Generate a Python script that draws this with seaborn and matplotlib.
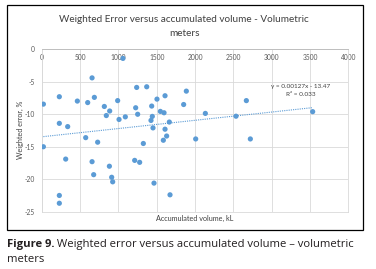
import numpy as np
import pandas as pd
import matplotlib
matplotlib.use("Agg")
import matplotlib.pyplot as plt
import seaborn as sns
from matplotlib.patches import Rectangle

sns.set_theme(style="white")
plt.rcParams['font.family'] = ['Lato', 'DejaVu Sans']

# ---- data ----
volume_kl = [22, 22, 230, 230, 230, 230, 313, 339, 465, 574, 600, 657, 657, 687, 678,
             730, 817, 843, 887, 883, 913, 926, 991, 1009, 1091, 1060,
             1213, 1278, 1239, 1226, 1252, 1370, 1326, 1435, 1426, 1443, 1452, 1465,
             1504, 1548, 1596, 1609, 1587, 1609, 1630, 1665, 1674,
             1887, 1852, 2135, 2009, 2670, 2535, 2722, 3535]
weighted_error = [-8.44, -15.0, -7.3, -11.4, -22.5, -23.7, -16.9, -11.9, -7.97, -13.6, -8.2,
                  -4.4, -17.3, -7.4, -19.3, -14.3, -8.8, -10.2, -9.5, -18.0, -19.7, -20.4,
                  -7.9, -10.8, -10.4, -1.4,
                  -17.1, -17.4, -5.87, -9.0, -10.0, -5.77, -14.5, -8.74, -10.95, -10.33,
                  -12.1, -20.6, -7.67, -9.56, -9.77, -7.15, -14.0, -12.3, -13.35, -11.2,
                  -22.4,
                  -6.44, -8.5, -9.87, -13.8, -7.9, -10.3, -13.8, -9.6]
trend_slope = 0.00127
trend_intercept = -13.47
r_squared = 0.033
x_ticks = [0, 500, 1000, 1500, 2000, 2500, 3000, 3500, 4000]
y_ticks = [0, -5, -10, -15, -20, -25]

title_text = "Weighted Error versus accumulated volume - Volumetric\nmeters"
x_label = "Accumulated volume, kL"
y_label = "Weighted error, %"
caption_bold = "Figure 9."
caption_rest = " Weighted error versus accumulated volume \u2013 volumetric"
caption_line2 = "meters"

df = pd.DataFrame({"volume": volume_kl, "error": weighted_error})

W, H = 376, 269
fig = plt.figure(figsize=(W / 100, H / 100), dpi=100)

def fx(px):
    return px / W

def fy(py):
    return 1 - py / H

# outer chart frame
fig.patches.append(Rectangle((fx(6.7), fy(229.7)), fx(363.3) - fx(6.7), fy(5) - fy(229.7),
                             transform=fig.transFigure, fill=False, edgecolor="black",
                             linewidth=0.9))

ax = fig.add_axes([fx(41.7), fy(211.7), fx(348.3) - fx(41.7), fy(49.3) - fy(211.7)])
grid_c = "#D9D9D9"
sns.scatterplot(data=df, x="volume", y="error", ax=ax, color="#5B9BD5", s=14,
                edgecolor="none", linewidth=0, zorder=3)

xs = np.array([min(volume_kl), max(volume_kl)])
ax.plot(xs, trend_slope * xs + trend_intercept, linestyle=(0, (1, 1)), color="#5B9BD5",
        linewidth=0.8, zorder=2)

ax.set_xlim(0, 4000)
ax.set_ylim(-25, 0)
ax.set_xticks(x_ticks)
ax.set_yticks(y_ticks)
ax.set_xticklabels([str(t) for t in x_ticks])
ax.set_yticklabels([str(t) for t in y_ticks])
ax.xaxis.tick_top()
ax.tick_params(axis="x", top=False, bottom=False, labeltop=True, labelbottom=False,
               pad=-8.5, labelsize=4.8, colors="#595959", length=0)
ax.tick_params(axis="y", left=False, labelsize=4.8, colors="#595959", pad=5, length=0)
ax.grid(True, color=grid_c, linewidth=0.6)
ax.set_axisbelow(True)
for side in ["left", "right", "bottom"]:
    ax.spines[side].set_color(grid_c)
    ax.spines[side].set_linewidth(0.6)
ax.spines["top"].set_color("#BFBFBF")
ax.spines["top"].set_linewidth(0.7)
ax.set_xlabel("")
ax.set_ylabel("")

fig.text(fx(195), fy(218), x_label, ha="center", va="center", fontsize=5.2, color="#404040")
fig.text(fx(20), fy(130), y_label, ha="center", va="center", fontsize=5.2, color="#404040",
         rotation=90)
fig.text(fx(184), fy(26.5), title_text, ha="center", va="center", fontsize=7.2,
         color="#404040", linespacing=1.6)

fig.text(fx(301), fy(86.5), f"y = {trend_slope:.5f}x - {abs(trend_intercept):.2f}",
         ha="center", va="center", fontsize=4.6, color="#404040")
fig.text(fx(301), fy(94.5), f"R\u00b2 = {r_squared:.3f}", ha="center", va="center",
         fontsize=4.6, color="#404040")

# caption
cap_font = ['Open Sans', 'DejaVu Sans']
cap_size = 8.1
t1 = fig.text(fx(7), fy(244.7), caption_bold, ha="left", va="center", fontsize=cap_size,
              fontweight="bold", family=cap_font, color="#231F20")
fig.canvas.draw()
bb = t1.get_window_extent()
fig.text(bb.x1 / W, fy(244.7), caption_rest, ha="left", va="center", fontsize=cap_size,
         family=cap_font, color="#231F20")
fig.text(fx(7), fy(259.7), caption_line2, ha="left", va="center", fontsize=cap_size,
         family=cap_font, color="#231F20")

fig.savefig("out.png", dpi=100)
